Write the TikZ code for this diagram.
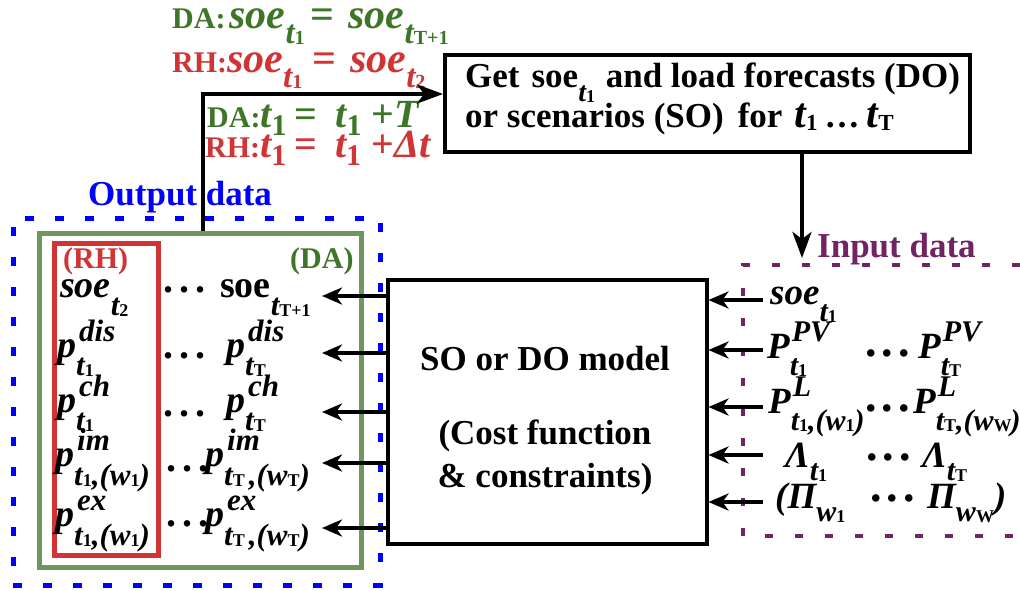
\documentclass[tikz,border=0pt]{standalone}
\usepackage{fontspec}
\setmainfont{Liberation Serif}
\usetikzlibrary{arrows.meta}

\definecolor{dagreen}{RGB}{62,118,40}
\definecolor{daframe}{RGB}{112,150,94}
\definecolor{rhred}{RGB}{208,52,52}
\definecolor{outblue}{RGB}{0,0,255}
\definecolor{inpurple}{RGB}{112,36,100}

% size and shape switches
\newcommand\fs[1]{\fontsize{#1}{#1}\selectfont}
\newcommand\BI{\bfseries\itshape}
\newcommand\BU{\bfseries\upshape}
% lowered piece
\newcommand\dn[2]{\raisebox{-#1}{#2}}
% superscript and subscript stacked behind a base
\newcommand\supsub[4]{%
  \setbox0=\hbox{\raisebox{#1}{#2}}%
  \setbox2=\hbox{\raisebox{-#3}{#4}}%
  \ifdim\wd0>\wd2 \rlap{\box2}\box0 \else\rlap{\box0}\box2 \fi}

% output variables
\newcommand\ob{\fs{38}\BI}
\newcommand\osc{\fs{31}\BI}
\newcommand\oss{\fs{18}\BU}
\newcommand\ot[1]{{\osc t}\dn{1pt}{\oss #1}}
\newcommand\ow[1]{{\osc w}\dn{1pt}{\oss #1}}
% input variables
\newcommand\ib{\fs{37}\BI}
\newcommand\isc{\fs{30}\BI}
\newcommand\iss{\fs{18}\BU}
\newcommand\itt[1]{{\isc t}\dn{1pt}{\iss #1}}
\newcommand\iw[1]{{\isc w}\dn{1pt}{\iss #1}}
% update rules
\newcommand\tb{\fs{42}\BI}
\newcommand\tsc{\fs{33}\BI}
\newcommand\tss{\fs{20}\BU}
\newcommand\lb{\fs{40}\BI}
\newcommand\lsc{\fs{30}\BU}
% dots
\newcommand\odts{{\fs{40}\bfseries.\kern6pt.\kern6pt.}}
\newcommand\idts{{\fs{46}\bfseries.\kern5pt.\kern5pt.}}

\tikzset{
  blackbox/.style={draw=black, line width=3.5pt, inner sep=0pt},
  arr/.style={line width=3.5pt, -{Stealth[length=20pt,width=17pt,inset=6pt]}},
  arrbig/.style={line width=4pt, -{Stealth[length=26pt,width=19pt,inset=7pt]}},
  lbl/.style={inner sep=0pt, anchor=base west, font=\fontsize{35}{40}\selectfont\bfseries},
  tag/.style={inner sep=0pt, anchor=base west, font=\fontsize{30}{34}\selectfont\bfseries},
  vtxt/.style={inner sep=0pt, anchor=base west},
  ctr/.style={inner sep=0pt, anchor=base, font=\fontsize{35}{40}\selectfont\bfseries},
}

\begin{document}
\begin{tikzpicture}[x=1pt,y=-1pt]
\useasboundingbox (0,0) rectangle (1020,590);

% ---------- frames ----------
\node[draw=outblue, line width=4.5pt, dash pattern=on 9pt off 21pt,
      minimum width=367pt, minimum height=367pt, anchor=north west, inner sep=0pt]
      (outdata) at (11,216) {};
\node[draw=daframe, line width=5pt, minimum width=322pt, minimum height=334pt,
      anchor=north west, inner sep=0pt] (dabox) at (37,231) {};
\node[draw=rhred, line width=4.5pt, minimum width=104pt, minimum height=312pt,
      anchor=north west, inner sep=0pt] (rhbox) at (52,241) {};
\draw[draw=inpurple, line width=4pt, dash pattern=on 8pt off 22pt]
      (1020,265) -| (743,536) -- (1020,536);

\node[blackbox, minimum width=319pt, minimum height=264pt, anchor=north west]
      (model) at (386,278) {};
\node[blackbox, minimum width=525pt, minimum height=97pt, anchor=north west]
      (getbox) at (443,53) {};

% ---------- box texts ----------
\node[ctr] (m1) at (545,370) {SO or DO model};
\node[ctr] (m2) at (545,444) {(Cost function};
\node[ctr] (m3) at (545,487) {\& constraints)};

\node[lbl] (g1) at (465,87)
  {Get\hspace{12pt}soe\dn{14pt}{\fs{28}\BI t\dn{1pt}{\fs{18}\BU 1}}\hspace{2pt} and load forecasts (DO)};
\node[lbl] (g2) at (465,127)
  {or scenarios (SO)\hspace{14pt}for\hspace{12pt}{\fs{42}\BI t}\dn{3pt}{\fs{23}\BU 1}\hspace{7pt}\ldots\hspace{7pt}{\fs{42}\BI t}\dn{3pt}{\fs{23}\BU T}};

% ---------- frame titles ----------
\node[lbl, text=outblue] (outlbl) at (88,205) {Output data};
\node[lbl, text=inpurple] (inlbl) at (817,257) {Input data};
\node[tag, text=rhred] (rhtag) at (63,268) {(RH)};
\node[tag, text=dagreen] (datag) at (290,268) {(DA)};

% ---------- update rules ----------
\node[vtxt, text=dagreen] (eqa) at (172,28)
  {{\fs{30}\bfseries DA:}\hspace{4pt}{\tb soe}\dn{15pt}{\tsc t\dn{1pt}{\tss 1}}\hspace{6pt}{\fs{42}\bfseries =}\hspace{14pt}{\tb soe}\dn{15pt}{\tsc t\dn{1pt}{\tss T+1}}};
\node[vtxt, text=rhred] (eqb) at (172,72)
  {{\fs{30}\bfseries RH:}{\tb soe}\dn{15pt}{\tsc t\dn{1pt}{\tss 1}}\hspace{10pt}{\fs{42}\bfseries =}\hspace{14pt}{\tb soe}\dn{15pt}{\tsc t\dn{1pt}{\tss 2}}};
\node[vtxt, text=dagreen] (eqc) at (207,127)
  {{\fs{30}\bfseries DA:}{\lb t}\dn{8pt}{\lsc 1}\hspace{8pt}{\fs{40}\bfseries =}\hspace{18pt}{\lb t}\dn{8pt}{\lsc 1}\hspace{10pt}{\fs{40}\bfseries +}{\lb T}};
\node[vtxt, text=rhred] (eqd) at (205,157)
  {{\fs{30}\bfseries RH:}{\lb t}\dn{8pt}{\lsc 1}\hspace{8pt}{\fs{40}\bfseries =}\hspace{18pt}{\lb t}\dn{8pt}{\lsc 1}\hspace{10pt}{\fs{40}\bfseries +}{\lb Δt}};

% ---------- output variables ----------
\node[vtxt] (o1a) at (60,297) {{\ob soe}\dn{18pt}{\ot{2}}};
\node[vtxt] (o1d) at (163,292) {\odts};
\node[vtxt] (o1b) at (220,297) {{\fs{38}\BU soe}\dn{18pt}{\ot{T+1}}};

\node[vtxt] (o2a) at (57,357) {{\ob p}\supsub{16pt}{\kern3pt\osc dis}{18pt}{\ot{1}}};
\node[vtxt] (o2d) at (163,358) {\odts};
\node[vtxt] (o2b) at (226,357) {{\ob p}\supsub{16pt}{\kern3pt\osc dis}{18pt}{\ot{T}}};

\node[vtxt] (o3a) at (57,412) {{\ob p}\supsub{16pt}{\kern3pt\osc ch}{18pt}{\ot{1}}};
\node[vtxt] (o3d) at (163,416) {\odts};
\node[vtxt] (o3b) at (226,412) {{\ob p}\supsub{16pt}{\kern3pt\osc ch}{18pt}{\ot{T}}};

\node[vtxt] (o4a) at (55,466) {{\ob p}\supsub{16pt}{\kern3pt\osc im}{19pt}{\ot{1}{\osc ,(}\ow{1}{\osc )}}};
\node[vtxt] (o4d) at (166,471) {\odts};
\node[vtxt] (o4b) at (205,466) {{\ob p}\supsub{16pt}{\kern3pt\osc im}{19pt}{\ot{T}\kern4pt{\osc ,(}\ow{T}{\osc )}}};

\node[vtxt] (o5a) at (55,526) {{\ob p}\supsub{16pt}{\kern3pt\osc ex}{19pt}{\ot{1}{\osc ,(}\ow{1}{\osc )}}};
\node[vtxt] (o5d) at (166,526) {\odts};
\node[vtxt] (o5b) at (205,526) {{\ob p}\supsub{16pt}{\kern3pt\osc ex}{19pt}{\ot{T}\kern4pt{\osc ,(}\ow{T}{\osc )}}};

% ---------- input variables ----------
\node[vtxt] (i1a) at (770,304) {{\ib soe}\dn{17pt}{\itt{1}}};

\node[vtxt] (i2a) at (767,358) {{\ib P}\supsub{17pt}{\kern2pt\isc PV}{17pt}{\itt{1}}};
\node[vtxt] (i2d) at (865,356) {\idts};
\node[vtxt] (i2b) at (918,358) {{\ib P}\supsub{17pt}{\kern2pt\isc PV}{17pt}{\itt{T}}};

\node[vtxt] (i3a) at (768,413) {{\ib P}\supsub{17pt}{\kern2pt\isc L}{17pt}{\itt{1}{\isc ,(}\iw{1}{\isc )}}};
\node[vtxt] (i3d) at (865,411) {\idts};
\node[vtxt] (i3b) at (913,413) {{\ib P}\supsub{17pt}{\kern2pt\isc L}{17pt}{\itt{T}{\isc ,(}\iw{W}\kern-1pt{\isc )}}};

\node[vtxt] (i4a) at (785,467) {{\ib Λ}\dn{13pt}{\itt{1}}};
\node[vtxt] (i4d) at (866,460) {\idts};
\node[vtxt] (i4b) at (922,467) {{\ib Λ}\dn{13pt}{\itt{T}}};

\node[vtxt] (i5a) at (775,508) {{\ib (Π}\dn{13pt}{\iw{1}}};
\node[vtxt] (i5d) at (870,501) {\idts};
\node[vtxt] (i5b) at (927,508) {{\ib Π}\dn{13pt}{\iw{W}}{\ib )}};

% ---------- connectors ----------
\coordinate (tap) at (203,94);
\draw[arrbig] (dabox.north -| tap) -- (tap) -- (tap -| getbox.west);
\coordinate (dn) at (802,258);
\draw[arrbig] (getbox.south -| dn) -- (dn);

\foreach \k/\y in {1/296,2/353,3/412,4/463,5/528}{
  \coordinate (out\k) at (322,\y);
  \draw[arr] (model.west |- out\k) -- (out\k);
}
\foreach \k/\y in {1/300,2/350,3/407,4/455,5/502}{
  \coordinate (in\k) at (763,\y);
  \draw[arr] (in\k) -- (in\k -| model.east);
}
\end{tikzpicture}
\end{document}
